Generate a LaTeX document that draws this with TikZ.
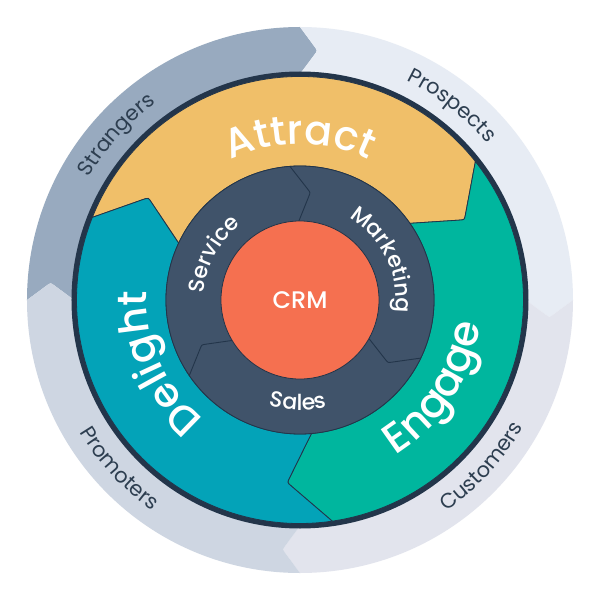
\documentclass[tikz,border=0pt]{standalone}
\usepackage{fontspec}
\setmainfont{Poppins}
\newfontfamily\popsb{Poppins SemiBold}
\newfontfamily\popmd{Poppins Medium}
\usetikzlibrary{calc,decorations.text}
\definecolor{edgec}{HTML}{23354A}
\definecolor{cStr}{HTML}{98AABF}
\definecolor{cPro}{HTML}{E7ECF4}
\definecolor{cCus}{HTML}{E2E4ED}
\definecolor{cPrm}{HTML}{CED6E2}
\definecolor{cAtt}{HTML}{F0BF69}
\definecolor{cEng}{HTML}{00B69E}
\definecolor{cDel}{HTML}{03A3B8}
\definecolor{cNavy}{HTML}{40536A}
\definecolor{cCRM}{HTML}{F57050}
\definecolor{cText}{HTML}{2D3E50}
\def\tiprad{5pt}
% #1 fill, #2 extra style, #3 Tstart, #4 Tend, #5 rin, #6 rmid, #7 rout, #8 din, #9 dout
\newcommand\arrowsector[9]{%
  \pgfmathsetmacro\aOs{#3+#9}%
  \pgfmathsetmacro\aOe{#4+#9}%
  \pgfmathsetmacro\aIs{#3+#8}%
  \pgfmathsetmacro\aIe{#4+#8}%
  \path[fill=#1,#2] (\aOs:#7) arc[start angle=\aOs,end angle=\aOe,radius=#7]
    -- ($(#4:#6)!\tiprad!(\aOe:#7)$) .. controls (#4:#6) .. ($(#4:#6)!\tiprad!(\aIe:#5)$)
    -- (\aIe:#5) arc[start angle=\aIe,end angle=\aIs,radius=#5]
    -- ($(#3:#6)!\tiprad!(\aIs:#5)$) .. controls (#3:#6) .. ($(#3:#6)!\tiprad!(\aOs:#7)$)
    -- cycle;}
\tikzset{
  ringedge/.style={draw=edgec,line width=0.8pt,line join=round},
  sepline/.style={draw=edgec,line width=0.9pt,line join=round,line cap=round},
}
\begin{document}
\begin{tikzpicture}
\useasboundingbox (-300pt,-300pt) rectangle (300pt,300pt);
\fill[white] (-300pt,-300pt) rectangle (300pt,300pt);
% outer ring
\arrowsector{cStr}{}{176}{86}{226pt}{250pt}{273pt}{4}{4}
\arrowsector{cPro}{}{86}{-4}{226pt}{250pt}{273pt}{4}{4}
\arrowsector{cCus}{}{-4}{-94}{226pt}{250pt}{273pt}{4}{4}
\arrowsector{cPrm}{}{-94}{-184}{226pt}{250pt}{273pt}{4}{4}
% dark band
\fill[edgec] (0,0) circle[radius=228.5pt];
% coloured ring
\arrowsector{cAtt}{ringedge}{146}{26}{134pt}{183pt}{223.5pt}{8.9}{12.3}
\arrowsector{cEng}{ringedge}{26}{-94}{134pt}{183pt}{223.5pt}{8.9}{12.3}
\arrowsector{cDel}{ringedge}{-94}{-214}{134pt}{183pt}{223.5pt}{8.9}{12.3}
% inner ring
\fill[cNavy,ringedge] (0,0) circle[radius=134pt];
\foreach \T in {84.5,204.5,324.5}{
  \draw[sepline] (\T+6.3:79pt) -- ($(\T:108pt)!4pt!(\T+6.3:79pt)$)
     .. controls (\T:108pt) .. ($(\T:108pt)!4pt!(\T+9.8:134pt)$) -- (\T+9.8:134pt);
}
% CRM
\node[circle,fill=cCRM,draw=edgec,line width=0.8pt,minimum size=158pt,inner sep=0pt,
      text=white,font=\popmd\fontsize{24}{24}\selectfont] (crm) at (0,0) {CRM};
% big labels
\path[decorate,decoration={text along path,text align=center,text color=white,
  text={|\popmd\fontsize{41}{41}\selectfont|Attract}}]
  (150:156pt) arc[start angle=150,end angle=30,radius=156pt];
\path[decorate,decoration={text along path,text align=center,text color=white,
  text={|\popmd\fontsize{42}{42}\selectfont|Engage}}]
  (-93:182pt) arc[start angle=-93,end angle=27,radius=182pt];
\path[decorate,decoration={text along path,text align=center,text color=white,
  text={|\popmd\fontsize{41}{41}\selectfont|Delight}}]
  (264:153pt) arc[start angle=264,end angle=144,radius=153pt];
% inner labels
\path[decorate,decoration={text along path,text align=center,text color=white,
  text={|\popmd\fontsize{22}{22}\selectfont|Marketing}}]
  (86:96pt) arc[start angle=86,end angle=-34,radius=96pt];
\path[decorate,decoration={text along path,text align=center,text color=white,
  text={|\popmd\fontsize{22}{22}\selectfont|Service}}]
  (212:96pt) arc[start angle=212,end angle=92,radius=96pt];
\path[decorate,decoration={text along path,text align=center,text color=white,
  text={|\popmd\fontsize{22}{22}\selectfont|Sales}}]
  (-151:110pt) arc[start angle=-151,end angle=-31,radius=110pt];
% outer labels
\path[decorate,decoration={text along path,text align=center,text color=cText,
  text={|\fontsize{21}{21}\selectfont|Strangers}}]
  (178:244pt) arc[start angle=178,end angle=98,radius=244pt];
\path[decorate,decoration={text along path,text align=center,text color=cText,
  text={|\fontsize{21}{21}\selectfont|Prospects}}]
  (92:244pt) arc[start angle=92,end angle=12,radius=244pt];
\path[decorate,decoration={text along path,text align=center,text color=cText,
  text={|\fontsize{21}{21}\selectfont|Customers}}]
  (-82.5:257pt) arc[start angle=-82.5,end angle=-2.5,radius=257pt];
\path[decorate,decoration={text along path,text align=center,text color=cText,
  text={|\fontsize{21}{21}\selectfont|Promoters}}]
  (-177:257pt) arc[start angle=-177,end angle=-97,radius=257pt];
\end{tikzpicture}
\end{document}
